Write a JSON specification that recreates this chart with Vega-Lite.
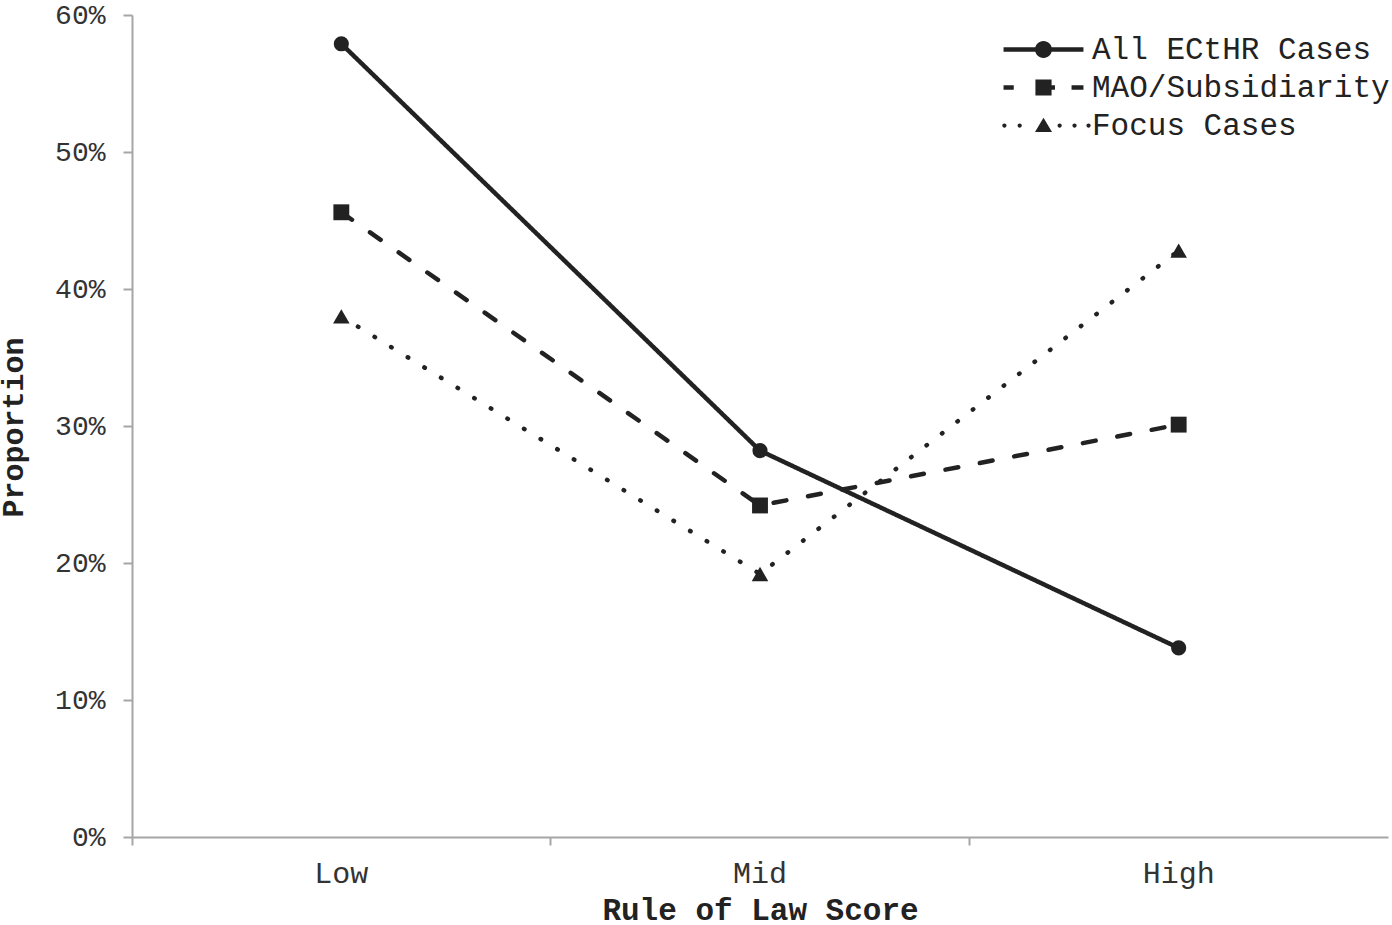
{
  "$schema": "https://vega.github.io/schema/vega-lite/v6.json",
  "autosize": {"type": "none"},
  "width": 1256,
  "height": 822,
  "padding": {"left": 132, "top": 15, "right": 4, "bottom": 88},
  "background": "white",
  "config": {
    "view": {"stroke": null},
    "font": "Liberation Mono"
  },
  "data": {
    "values": [
      {"score": "Low", "series": "All ECtHR Cases", "value": 0.579},
      {"score": "Mid", "series": "All ECtHR Cases", "value": 0.282},
      {"score": "High", "series": "All ECtHR Cases", "value": 0.138},
      {"score": "Low", "series": "MAO/Subsidiarity", "value": 0.456},
      {"score": "Mid", "series": "MAO/Subsidiarity", "value": 0.242},
      {"score": "High", "series": "MAO/Subsidiarity", "value": 0.301},
      {"score": "Low", "series": "Focus Cases", "value": 0.380},
      {"score": "Mid", "series": "Focus Cases", "value": 0.192},
      {"score": "High", "series": "Focus Cases", "value": 0.428}
    ]
  },
  "encoding": {
    "x": {
      "field": "score", "type": "nominal", "sort": ["Low", "Mid", "High"],
      "scale": {"type": "band", "paddingInner": 0, "paddingOuter": 0},
      "axis": {
        "title": "Rule of Law Score",
        "bandPosition": 0,
        "labelAngle": 0,
        "domainColor": "#a6a6a6", "domainWidth": 2,
        "tickColor": "#a6a6a6", "tickWidth": 2, "tickSize": 8,
        "labelFont": "Liberation Mono", "labelFontSize": 30, "labelColor": "#333333",
        "labelPadding": 13,
        "titleFont": "Liberation Mono", "titleFontSize": 31, "titleFontWeight": "bold", "titleColor": "#222222",
        "titleY": 82, "titleBaseline": "alphabetic", "titleAlign": "center", "titleX": 628
      }
    },
    "y": {
      "field": "value", "type": "quantitative",
      "scale": {"domain": [0, 0.6], "nice": false},
      "axis": {
        "title": "Proportion",
        "values": [0, 0.1, 0.2, 0.3, 0.4, 0.5, 0.6],
        "format": ".0%",
        "grid": false,
        "domainColor": "#a6a6a6", "domainWidth": 2,
        "tickColor": "#a6a6a6", "tickWidth": 2, "tickSize": 9,
        "labelFont": "Liberation Mono", "labelFontSize": 28, "labelColor": "#333333",
        "labelPadding": 18,
        "titleFont": "Liberation Mono", "titleFontSize": 30, "titleFontWeight": "bold", "titleColor": "#222222",
        "titleAngle": -90, "titleX": -110, "titleY": 412, "titleAlign": "center", "titleBaseline": "alphabetic"
      }
    }
  },
  "layer": [
    {
      "mark": {"type": "line", "color": "#222222", "strokeWidth": 4.5, "strokeCap": "round"},
      "encoding": {
        "strokeDash": {
          "field": "series", "type": "nominal",
          "scale": {"domain": ["All ECtHR Cases", "MAO/Subsidiarity", "Focus Cases"], "range": [[1, 0], [13, 22], [0.5, 19]]},
          "legend": null
        },
        "detail": {"field": "series"}
      }
    },
    {
      "mark": {"type": "point", "filled": true, "color": "#222222", "opacity": 1},
      "encoding": {
        "shape": {
          "field": "series", "type": "nominal",
          "scale": {"domain": ["All ECtHR Cases", "MAO/Subsidiarity", "Focus Cases"], "range": ["circle", "square", "triangle-up"]},
          "legend": null
        },
        "size": {
          "field": "series", "type": "nominal",
          "scale": {"domain": ["All ECtHR Cases", "MAO/Subsidiarity", "Focus Cases"], "range": [230, 275, 300]},
          "legend": null
        }
      }
    },
    {
      "transform": [{"filter": "false"}],
      "mark": {"type": "point", "filled": true, "color": "#222222", "opacity": 1, "strokeWidth": 0},
      "encoding": {
        "shape": {
          "field": "series", "type": "nominal",
          "scale": {
            "domain": ["All ECtHR Cases", "MAO/Subsidiarity", "Focus Cases"],
            "range": [
              "M-4.7,-0.26H4.7V0.26H-4.7Z M-1,0A1,1 0 1,1 1,0A1,1 0 1,1 -1,0Z",
              "M-4.7,-0.26H-3.5V0.26H-4.7Z M-0.95,-0.95H0.95V0.95H-0.95Z M0.9,-0.26H1.35V0.26H0.9Z M3.3,-0.26H4.7V0.26H3.3Z",
              "M-4.85,0A0.25,0.25 0 1,1 -4.35,0A0.25,0.25 0 1,1 -4.85,0Z M-3.05,0A0.25,0.25 0 1,1 -2.55,0A0.25,0.25 0 1,1 -3.05,0Z M1.65,0A0.25,0.25 0 1,1 2.15,0A0.25,0.25 0 1,1 1.65,0Z M3.4,0A0.25,0.25 0 1,1 3.9,0A0.25,0.25 0 1,1 3.4,0Z M5.05,0A0.25,0.25 0 1,1 5.55,0A0.25,0.25 0 1,1 5.05,0Z M0,-0.9L1,0.75L-1,0.75Z"
            ]
          },
          "legend": {
            "title": null,
            "orient": "none",
            "legendX": 896,
            "legendY": 19,
            "symbolSize": 289,
            "symbolStrokeWidth": 0,
            "symbolFillColor": "#222222",
            "labelFont": "Liberation Mono",
            "labelFontSize": 31,
            "labelColor": "#222222",
            "labelLimit": 0,
            "labelOffset": 33,
            "rowPadding": 6
          }
        }
      }
    }
  ],
  "resolve": {"scale": {"shape": "independent"}}
}
